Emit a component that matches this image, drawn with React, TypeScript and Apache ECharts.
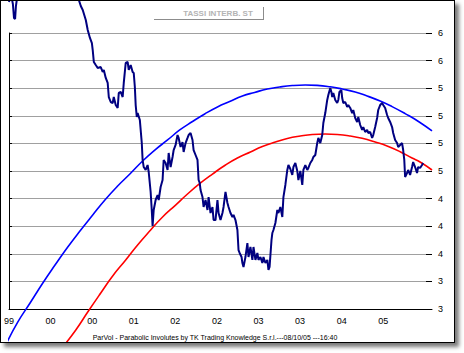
import React, { useEffect, useRef } from "react";
import * as echarts from "echarts";

// x = trading-day index since start; one axis label every 150 days
const X_LABELS = ["99", "00", "00", "01", "02", "02", "03", "03", "04", "05"];

const DAYS = [
  0, 7, 14, 18, 22, 25, 32, 50, 79, 115, 151, 187, 223, 245, 252, 259, 266, 277, 284, 292,
  299, 302, 306, 313, 320, 331, 338, 342, 349, 356, 360, 367, 374, 378, 385, 392, 396, 403, 410, 414,
  421, 428, 432, 439, 446, 450, 454, 457, 461, 464, 472, 479, 482, 486, 493, 500, 504, 511, 515, 518,
  522, 529, 536, 540, 547, 554, 558, 565, 572, 576, 583, 590, 594, 601, 608, 612, 619, 626, 630, 637,
  644, 648, 655, 662, 666, 673, 680, 684, 688, 691, 698, 702, 709, 716, 720, 727, 734, 738, 745, 752,
  756, 763, 770, 774, 781, 788, 792, 799, 806, 810, 817, 824, 828, 832, 839, 842, 846, 853, 860, 864,
  871, 878, 882, 889, 896, 900, 907, 914, 918, 925, 932, 936, 940, 947, 950, 954, 961, 968, 972, 979,
  986, 990, 997, 1004, 1008, 1015, 1022, 1026, 1033, 1040, 1044, 1051, 1058, 1062, 1069, 1076, 1080, 1087, 1094, 1098,
  1105, 1112, 1116, 1123, 1130, 1134, 1141, 1148, 1152, 1159, 1163, 1166, 1170, 1177, 1184, 1188, 1192, 1199, 1202, 1206,
  1213, 1220, 1224, 1231, 1238, 1242, 1249, 1256, 1260, 1267, 1274, 1278, 1285, 1292, 1296, 1303, 1310, 1314, 1321, 1328,
  1332, 1339, 1346, 1350, 1357, 1364, 1368, 1375, 1382, 1386, 1393, 1400, 1404, 1411, 1418, 1422, 1426, 1429, 1436, 1440,
  1447, 1454, 1458, 1465, 1472, 1476, 1483, 1490, 1494,
];

const RATES = [
  6.337, 6.424, 6.315, 6.163, 6.152, 6.293, 6.446, 6.511, 6.576, 6.62, 6.598, 6.554, 6.467, 6.391, 6.359, 6.293, 6.25, 6.141, 6.033, 5.946,
  5.891, 5.815, 5.685, 5.652, 5.62, 5.63, 5.576, 5.598, 5.511, 5.457, 5.304, 5.25, 5.239, 5.304, 5.217, 5.185, 5.348, 5.359, 5.304, 5.457,
  5.674, 5.685, 5.598, 5.652, 5.576, 5.565, 5.413, 5.217, 5.087, 5.13, 5.054, 4.804, 4.62, 4.543, 4.511, 4.565, 4.489, 4.272, 4.076, 3.902,
  4.076, 4.185, 4.239, 4.185, 4.326, 4.402, 4.62, 4.587, 4.511, 4.696, 4.543, 4.652, 4.728, 4.783, 4.891, 4.859, 4.761, 4.815, 4.707, 4.804,
  4.859, 4.891, 4.913, 4.837, 4.728, 4.674, 4.62, 4.402, 4.37, 4.293, 4.217, 4.109, 4.185, 4.076, 4.217, 4.043, 4.109, 3.967, 3.967, 4.185,
  4.043, 3.967, 4.043, 4.109, 4.272, 4.152, 4.109, 4.043, 4.0, 4.022, 3.967, 3.859, 3.641, 3.609, 3.565, 3.5, 3.457, 3.565, 3.717, 3.565,
  3.674, 3.533, 3.674, 3.533, 3.609, 3.533, 3.565, 3.5, 3.565, 3.5, 3.533, 3.424, 3.457, 3.75, 3.826, 3.859, 3.935, 4.076, 4.043, 4.109,
  4.0, 4.217, 4.348, 4.511, 4.565, 4.522, 4.457, 4.543, 4.587, 4.5, 4.402, 4.5, 4.348, 4.511, 4.565, 4.511, 4.533, 4.587, 4.62, 4.652,
  4.674, 4.804, 4.859, 4.804, 4.891, 5.022, 5.13, 5.272, 5.326, 5.402, 5.359, 5.304, 5.348, 5.272, 5.239, 5.272, 5.359, 5.38, 5.293, 5.239,
  5.25, 5.196, 5.217, 5.185, 5.13, 5.163, 5.076, 5.033, 5.087, 5.0, 4.946, 4.978, 4.924, 4.946, 4.913, 4.924, 4.859, 4.891, 4.978, 5.076,
  5.163, 5.217, 5.239, 5.217, 5.185, 5.109, 5.076, 5.033, 4.978, 4.913, 4.837, 4.804, 4.761, 4.783, 4.804, 4.728, 4.62, 4.435, 4.478, 4.511,
  4.457, 4.543, 4.598, 4.543, 4.478, 4.543, 4.533, 4.565, 4.587,
];

// Upper (blue) parabolic involute
const UPPER_DAYS = [
  -14, 32, 76, 122, 166, 212, 256, 302, 346, 392, 436, 482, 526, 572, 616, 662, 706, 752,
  796, 842, 886, 932, 976, 1022, 1069, 1112, 1159, 1202, 1249, 1292, 1339, 1382, 1429, 1480, 1526,
];
const UPPER_VALUES = [
  2.598, 2.859, 3.065, 3.283, 3.478, 3.674, 3.848, 4.022, 4.185, 4.337, 4.467, 4.609, 4.728, 4.837, 4.946, 5.038, 5.12, 5.196,
  5.255, 5.315, 5.354, 5.391, 5.413, 5.429, 5.435, 5.431, 5.415, 5.391, 5.359, 5.315, 5.261, 5.2, 5.124, 5.033, 4.935,
];

// Lower (red) parabolic involute
const LOWER_DAYS = [
  194, 241, 284, 331, 374, 421, 464, 511, 554, 601, 644, 691, 734, 781, 824, 871,
  914, 961, 1004, 1051, 1094, 1141, 1184, 1231, 1274, 1321, 1364, 1411, 1454, 1483, 1526,
];
const LOWER_VALUES = [
  2.587, 2.772, 2.967, 3.174, 3.359, 3.533, 3.696, 3.859, 4.0, 4.13, 4.25, 4.37, 4.467, 4.565, 4.641, 4.707,
  4.766, 4.815, 4.853, 4.88, 4.897, 4.902, 4.897, 4.88, 4.855, 4.815, 4.772, 4.71, 4.641, 4.598, 4.511,
];

const TITLE = "TASSI INTERB. ST";
const FOOTER = "ParVol - Parabolic Involutes by TK Trading Knowledge S.r.l.---08/10/05 ---16:40";

const zip = (xs: number[], ys: number[]) => xs.map((x, i) => [x, ys[i]]);

export default function App() {
  const ref = useRef<HTMLDivElement>(null);

  useEffect(() => {
    if (!ref.current) return;
    const chart = echarts.init(ref.current, null, { renderer: "svg" });
    const font = "'Liberation Sans', Arial, sans-serif";
    const yBase = {
      type: "value" as const,
      position: "right" as const,
      min: 3,
      max: 6,
      interval: 0.3,
      scale: true,
    };
    chart.setOption({
      animation: false,
      backgroundColor: "#ffffff",
      grid: { left: 7, top: 32, right: 22, bottom: 33, containLabel: false },
      xAxis: {
        type: "value",
        min: 0,
        max: 1526,
        interval: 150,
        axisLine: { show: true, lineStyle: { color: "#000000", width: 1 } },
        axisTick: { show: false },
        splitLine: { show: false },
        axisLabel: {
          show: true,
          margin: 7,
          fontSize: 9,
          fontFamily: font,
          color: "#000000",
          formatter: (v: number) => {
            const i = v / 150;
            if (Math.abs(i - Math.round(i)) > 1e-6) return "";
            return X_LABELS[Math.round(i)] ?? "";
          },
        },
      },
      yAxis: [
        {
          ...yBase,
          axisLine: { show: true, lineStyle: { color: "#000000", width: 1 } },
          axisTick: { show: true, length: 3, lineStyle: { color: "#000000" } },
          splitLine: { show: true, lineStyle: { color: "#a0a0a0", width: 1 } },
          axisLabel: {
            show: true,
            margin: 6,
            fontSize: 9,
            fontFamily: font,
            color: "#000000",
            formatter: (v: number) => String(Math.round(v)),
          },
        },
        {
          ...yBase,
          axisLine: { show: false },
          axisTick: { show: true, inside: true, length: 6, lineStyle: { color: "#000000" } },
          splitLine: { show: false },
          axisLabel: { show: false },
        },
      ],
      graphic: [
        {
          type: "line",
          shape: { x1: 153, y1: 18.5, x2: 262.5, y2: 18.5 },
          style: { stroke: "#8c8c8c", lineWidth: 1 },
        },
        {
          type: "line",
          shape: { x1: 262.5, y1: 6, x2: 262.5, y2: 19 },
          style: { stroke: "#8c8c8c", lineWidth: 1 },
        },
        {
          type: "text",
          x: 217,
          y: 12,
          style: {
            text: TITLE,
            fill: "#b4b4b4",
            font: `bold 8px ${font}`,
            textAlign: "center",
            textVerticalAlign: "middle",
          },
        },
        {
          type: "text",
          x: 214,
          y: 336,
          style: {
            text: FOOTER,
            fill: "#000000",
            font: `7px ${font}`,
            textAlign: "center",
            textVerticalAlign: "middle",
          },
        },
      ],
      series: [
        {
          name: "Upper",
          type: "line",
          data: zip(UPPER_DAYS, UPPER_VALUES),
          smooth: true,
          showSymbol: false,
          clip: false,
          lineStyle: { color: "#0000ff", width: 1.6 },
          z: 3,
        },
        {
          name: "Lower",
          type: "line",
          data: zip(LOWER_DAYS, LOWER_VALUES),
          smooth: true,
          showSymbol: false,
          clip: false,
          lineStyle: { color: "#ff0000", width: 1.6 },
          z: 3,
        },
        {
          name: TITLE,
          type: "line",
          data: zip(DAYS, RATES),
          showSymbol: false,
          clip: false,
          lineStyle: { color: "#000080", width: 2 },
          z: 4,
        },
      ],
    });
    return () => chart.dispose();
  }, []);

  return (
    <div style={{ position: "fixed", left: 0, top: 0, width: 464, height: 353, background: "#ffffff" }}>
      <div
        style={{
          position: "absolute",
          left: 0,
          top: 0,
          width: 455,
          height: 343,
          boxSizing: "border-box",
          border: "1px solid #000000",
          boxShadow: "4px 4px 4px #7a7a7a",
          background: "#ffffff",
        }}
      >
        <div ref={ref} style={{ width: 453, height: 341, overflow: "hidden" }} />
      </div>
    </div>
  );
}
